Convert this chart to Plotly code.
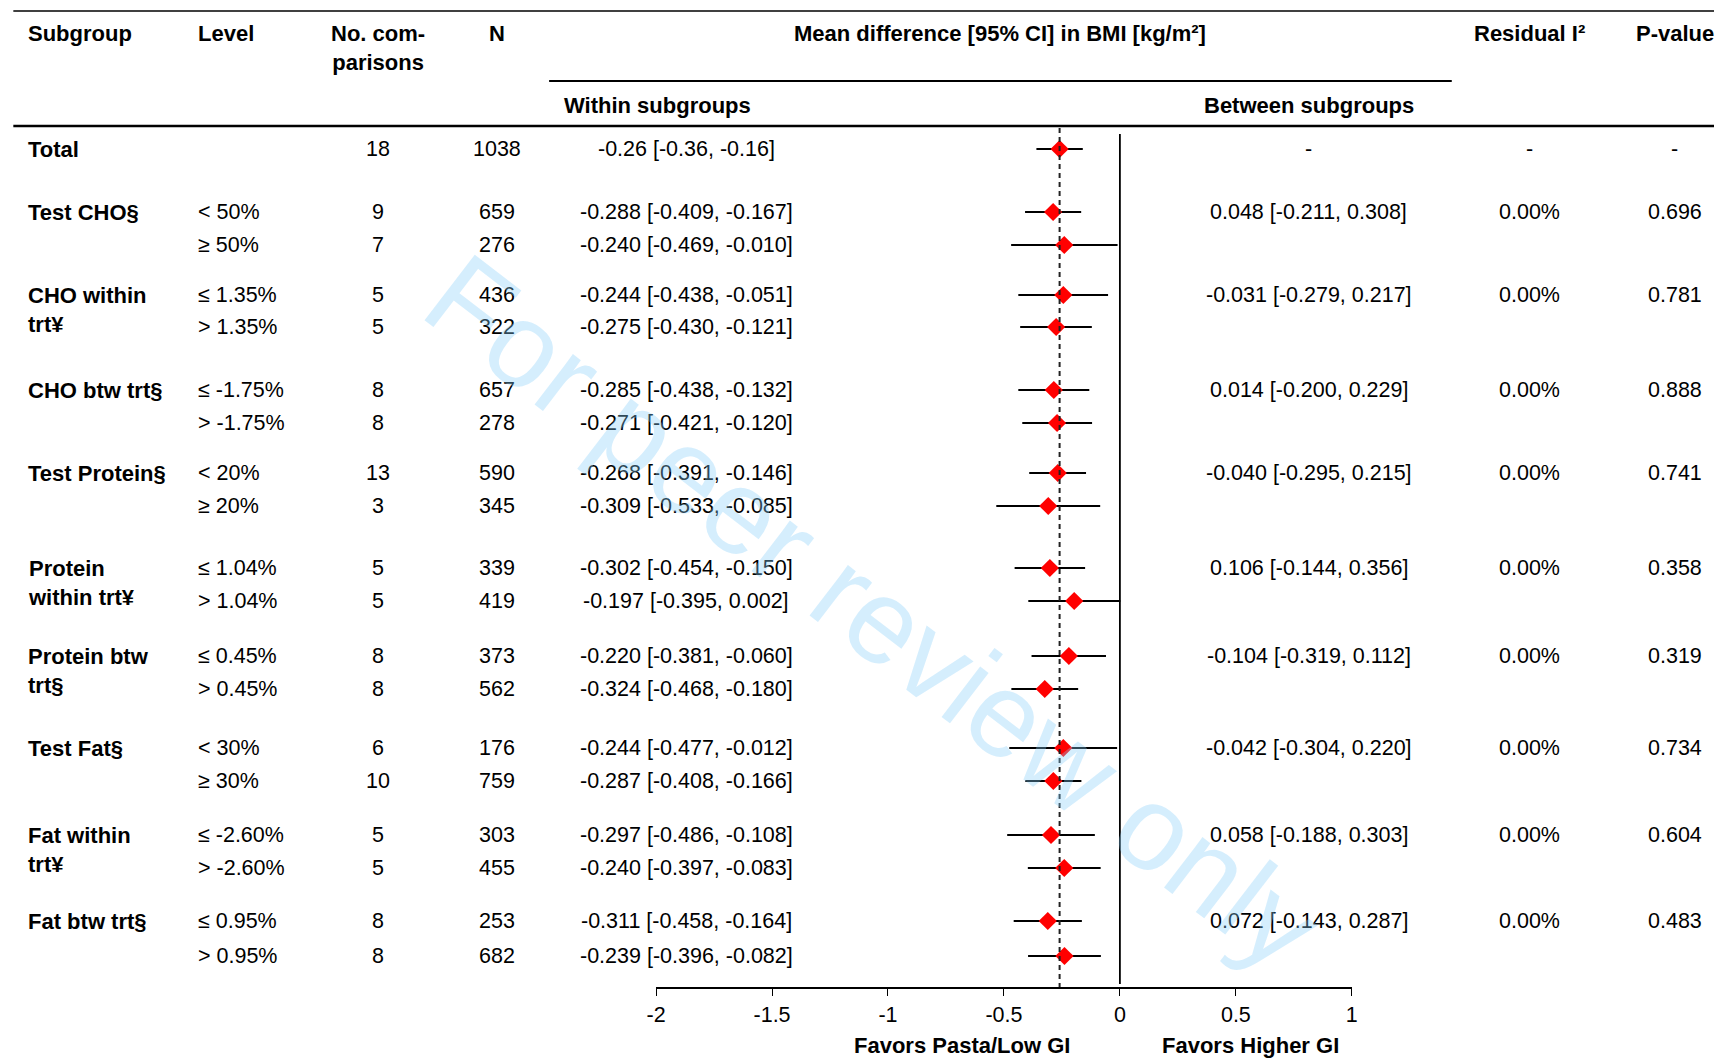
import plotly.graph_objects as go

# ---- data -----------------------------------------------------------------
subgroups = ["Test CHO§", "CHO within<br>trt¥", "CHO btw trt§", "Test Protein§",
             "Protein<br>within trt¥", "Protein btw<br>trt§", "Test Fat§",
             "Fat within<br>trt¥", "Fat btw trt§"]
levels = ["&lt; 50%", "≥ 50%", "≤ 1.35%", "&gt; 1.35%", "≤ -1.75%", "&gt; -1.75%",
          "&lt; 20%", "≥ 20%", "≤ 1.04%", "&gt; 1.04%", "≤ 0.45%", "&gt; 0.45%",
          "&lt; 30%", "≥ 30%", "≤ -2.60%", "&gt; -2.60%", "≤ 0.95%", "&gt; 0.95%"]
n_comparisons = [9, 7, 5, 5, 8, 8, 13, 3, 5, 5, 8, 8, 6, 10, 5, 5, 8, 8]
n_participants = [659, 276, 436, 322, 657, 278, 590, 345, 339, 419, 373, 562,
                  176, 759, 303, 455, 253, 682]
mean_diff = [-0.288, -0.240, -0.244, -0.275, -0.285, -0.271, -0.268, -0.309,
             -0.302, -0.197, -0.220, -0.324, -0.244, -0.287, -0.297, -0.240,
             -0.311, -0.239]
ci_lower = [-0.409, -0.469, -0.438, -0.430, -0.438, -0.421, -0.391, -0.533,
            -0.454, -0.395, -0.381, -0.468, -0.477, -0.408, -0.486, -0.397,
            -0.458, -0.396]
ci_upper = [-0.167, -0.010, -0.051, -0.121, -0.132, -0.120, -0.146, -0.085,
            -0.150, 0.002, -0.060, -0.180, -0.012, -0.166, -0.108, -0.083,
            -0.164, -0.082]

total_comparisons = 18
total_n = 1038
total_md, total_lower, total_upper = -0.26, -0.36, -0.16

between_md = [0.048, -0.031, 0.014, -0.040, 0.106, -0.104, -0.042, 0.058, 0.072]
between_lower = [-0.211, -0.279, -0.200, -0.295, -0.144, -0.319, -0.304, -0.188, -0.143]
between_upper = [0.308, 0.217, 0.229, 0.215, 0.356, 0.112, 0.220, 0.303, 0.287]
residual_i2 = [0.00, 0.00, 0.00, 0.00, 0.00, 0.00, 0.00, 0.00, 0.00]
p_values = [0.696, 0.781, 0.888, 0.741, 0.358, 0.319, 0.734, 0.604, 0.483]

tick_vals = [-2, -1.5, -1, -0.5, 0, 0.5, 1]
tick_text = ["-2", "-1.5", "-1", "-0.5", "0", "0.5", "1"]

# ---- layout geometry (pixels) ---------------------------------------------
W, H = 1720, 1060
AXIS_Y = 987
total_y = 149
row_y = [212, 245, 295, 327, 390, 423, 473, 506, 568, 601,
         656, 689, 748, 781, 835, 868, 921, 956]

X_SUB, X_LEVEL, X_NCOMP, X_N = 24, 194, 376, 495
X_WITHIN, X_BETWEEN, X_I2, X_P = 684, 1307, 1528, 1673
PLOT_L, PLOT_R = 654, 1350

# horizontal spread of the layout about the page centre
CX, KX = W / 2, 1.009

FONT = "Liberation Sans, Arial, sans-serif"
FS = 21.5
FS_BOLD = 22


def px(x):
    return min(1.0, max(0.0, (CX + (x - CX) * KX) / W))


def py(y):
    return 1 - y / H


annotations = []


def label(x, y, text, anchor="center", bold=False, yanchor="middle"):
    annotations.append(dict(
        x=px(x), y=py(y), xref="paper", yref="paper",
        text=f"<b>{text}</b>" if bold else text,
        xanchor=anchor, yanchor=yanchor, align=anchor, showarrow=False,
        font=dict(family=FONT, size=FS_BOLD if bold else FS, color="black"),
    ))


def ci_text(m, lo, hi, d=3):
    return f"{m:.{d}f} [{lo:.{d}f}, {hi:.{d}f}]"


# header
label(X_SUB, 33, "Subgroup", "left", True)
label(X_LEVEL, 33, "Level", "left", True)
label(X_NCOMP, 19, "No. com-<br>parisons", "center", True, yanchor="top")
label(X_N, 33, "N", "center", True)
label(998, 33, "Mean difference [95% CI] in BMI [kg/m²]", "center", True)
label(X_I2, 33, "Residual I²", "center", True)
label(X_P, 33, "P-value", "center", True)
label(655, 105, "Within subgroups", "center", True)
label(X_BETWEEN, 105, "Between subgroups", "center", True)

# total row
label(X_SUB, total_y, "Total", "left", True)
label(X_NCOMP, total_y, str(total_comparisons))
label(X_N, total_y, str(total_n))
label(X_WITHIN, total_y, ci_text(total_md, total_lower, total_upper, 2))
label(X_BETWEEN, total_y, "-")
label(X_I2, total_y, "-")
label(X_P, total_y, "-")

# subgroup rows
for i, y in enumerate(row_y):
    label(X_LEVEL, y, levels[i], "left")
    label(X_NCOMP, y, str(n_comparisons[i]))
    label(X_N, y, str(n_participants[i]))
    label(X_WITHIN, y, ci_text(mean_diff[i], ci_lower[i], ci_upper[i]))

for g, name in enumerate(subgroups):
    y = row_y[2 * g]
    label(X_SUB, y - 14, name, "left", True, yanchor="top")
    label(X_BETWEEN, y, ci_text(between_md[g], between_lower[g], between_upper[g]))
    label(X_I2, y, f"{residual_i2[g]:.2f}%")
    label(X_P, y, f"{p_values[g]:.3f}")

# axis captions
label(960, 1045, "Favors Pasta/Low GI", "center", True)
label(1249, 1045, "Favors Higher GI", "center", True)

# watermark
annotations.append(dict(
    x=px(872), y=py(612), xref="paper", yref="paper",
    text="For peer review only", showarrow=False, textangle=37.5,
    font=dict(family=FONT, size=120, color="rgba(135,206,250,0.35)"),
    xanchor="center", yanchor="middle",
))

# ---- figure ----------------------------------------------------------------
ys = [total_y] + row_y
xs = [total_md] + mean_diff
err_plus = [total_upper - total_md] + [u - m for u, m in zip(ci_upper, mean_diff)]
err_minus = [total_md - total_lower] + [m - l for m, l in zip(mean_diff, ci_lower)]

fig = go.Figure()
fig.add_trace(go.Scatter(
    x=xs, y=ys, mode="markers",
    marker=dict(symbol="diamond", size=14, color="#ff0000", line=dict(width=0)),
    error_x=dict(type="data", symmetric=False, array=err_plus, arrayminus=err_minus,
                 color="black", thickness=1.8, width=0),
    showlegend=False, hoverinfo="skip",
))

shapes = [
    # table rules
    dict(type="line", xref="paper", yref="paper", x0=px(11), x1=1, y0=py(11), y1=py(11),
         line=dict(color="black", width=1.5)),
    dict(type="line", xref="paper", yref="paper", x0=px(547), x1=px(1450), y0=py(81), y1=py(81),
         line=dict(color="black", width=2)),
    dict(type="line", xref="paper", yref="paper", x0=px(11), x1=1, y0=py(126), y1=py(126),
         line=dict(color="black", width=2.5)),
    # line of no effect
    dict(type="line", xref="x", yref="y", x0=0, x1=0, y0=134, y1=984,
         line=dict(color="black", width=1.8)),
    # pooled estimate
    dict(type="line", xref="x", yref="y", x0=total_md, x1=total_md, y0=128, y1=AXIS_Y,
         line=dict(color="#222222", width=2, dash="5px,4px")),
]

fig.update_layout(
    width=W, height=H, margin=dict(l=0, r=0, t=0, b=0),
    paper_bgcolor="white", plot_bgcolor="white",
    annotations=annotations, shapes=shapes,
    xaxis=dict(domain=[px(PLOT_L), px(PLOT_R)], range=[-2, 1], showgrid=False,
               zeroline=False, showline=True, linecolor="black", linewidth=1.5,
               ticks="outside", ticklen=7, tickwidth=1.2, tickcolor="black",
               tickvals=tick_vals, ticktext=tick_text,
               tickfont=dict(family=FONT, size=FS, color="black")),
    yaxis=dict(domain=[1 - AXIS_Y / H, 1], range=[AXIS_Y, 0], visible=False,
               showgrid=False, zeroline=False),
)

fig.write_html("out.html")
